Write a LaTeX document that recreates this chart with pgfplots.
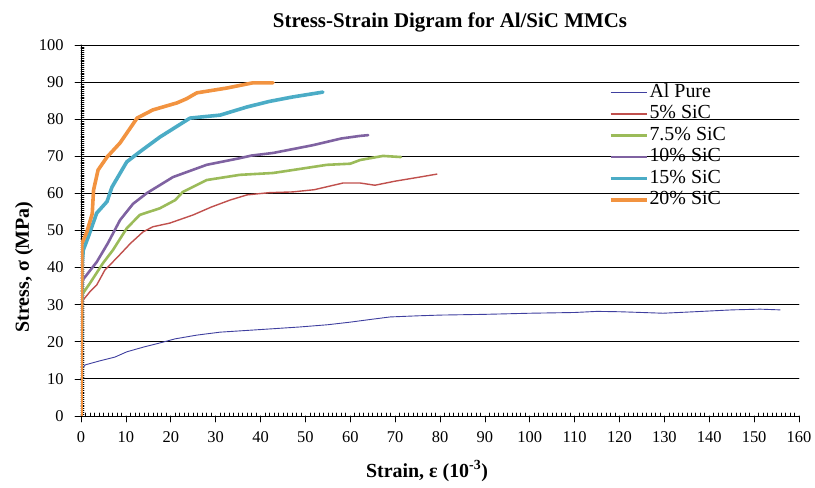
\documentclass[border=0pt]{standalone}
\usepackage{fontspec}
\setmainfont{Liberation Serif}
\usepackage{pgfplots}
\pgfplotsset{compat=1.18}

\definecolor{alpure}{HTML}{3F3F9F}
\definecolor{sic5}{HTML}{C0504D}
\definecolor{sic75}{HTML}{9BBB59}
\definecolor{sic10}{HTML}{7F62A1}
\definecolor{sic15}{HTML}{4BACC6}
\definecolor{sic20}{HTML}{F29340}

\begin{document}
\begin{tikzpicture}
\useasboundingbox (-81bp,-72bp) rectangle (734bp,416bp);
\begin{axis}[
  scale only axis,
  width=718bp, height=371bp,
  xmin=0, xmax=160, ymin=0, ymax=100,
  xtick={0,10,...,160}, ytick={0,10,...,100},
  minor x tick num=9, minor y tick num=19,
  axis x line=bottom, axis y line=left,
  axis line style={-, black, line width=0.8bp},
  ymajorgrids, grid style={black, line width=0.8bp},
  tick align=inside,
  major tick length=0pt, minor tick length=3bp,
  every tick/.style={black, line width=0.6bp},
  extra x ticks={0,10,...,160}, extra x tick labels={},
  extra y ticks={0,10,...,100}, extra y tick labels={},
  extra tick style={tick align=outside, major tick length=6bp, grid=none},
  tick label style={font=\fontsize{16.5}{18}\selectfont},
  /pgf/number format/assume math mode=true,
  xticklabel style={yshift=-12bp},
  yticklabel style={xshift=-14bp},
  legend style={draw=none, fill=none, at={(0.735,0.902)}, anchor=north west,
    font=\fontsize{20}{22}\selectfont, inner sep=0pt,
    nodes={inner sep=1bp, text height=14.5bp, text depth=5bp}},
  legend cell align=left,
  legend image code/.code={\draw[#1] (0bp,0bp) -- (36bp,0bp);},
  line join=round, line cap=round,
]
\addplot[alpure, line width=0.9bp] coordinates {
 (0,0) (0.3,13.0) (1,13.8) (4,14.8) (7.6,15.9) (10.2,17.3) (14,18.6) (17.6,19.7)
 (21,20.8) (25.8,21.8) (31,22.6) (40,23.3) (48.8,24.0) (55,24.6) (60,25.3) (65,26.1)
 (68.9,26.7) (75,27.0) (80,27.2) (90,27.4) (100,27.7) (110,27.9) (115,28.2) (120,28.1)
 (125,27.9) (129.7,27.7) (135,28.0) (140,28.3) (145,28.6) (151.3,28.8) (155.8,28.6)
};
\addplot[sic5, line width=1.4bp] coordinates {
 (0,0) (0.2,29.5) (0.5,31.3) (2,33.5) (3.5,35.3) (5.3,39.3) (8.2,42.9) (11,46.5)
 (13.8,49.6) (16,51) (19.8,52) (25,54.2) (29,56.3) (33.2,58.2) (37,59.6) (42,60.2)
 (47.2,60.4) (52,61) (58.4,62.8) (62.2,62.8) (65.5,62.2) (70,63.3) (75,64.3) (79.3,65.2)
};
\addplot[sic75, line width=2.6bp] coordinates {
 (0,0) (0.2,31) (0.4,33) (2,35.8) (4.9,41.2) (7.1,44.7) (10.2,50.6) (13.1,54.2)
 (17.6,56) (21,58.2) (22.7,60.4) (28,63.6) (35.4,65) (42.8,65.5) (47.2,66.3)
 (54.8,67.7) (60,68) (62.2,69) (67.3,70.1) (71.3,69.8)
};
\addplot[sic10, line width=2.6bp] coordinates {
 (0,0) (0.2,34) (0.4,36.7) (3.5,41.5) (6,46.6) (8.7,52.8) (11.6,57.2) (14.7,60.1)
 (20.5,64.4) (28,67.7) (35.4,69.5) (38,70.2) (42.8,70.9) (51.7,73) (58,74.8)
 (62.2,75.5) (64,75.7)
};
\addplot[sic15, line width=3.6bp] coordinates {
 (0,0) (0.2,40) (0.5,44.7) (1.6,48.2) (3.5,54.7) (5.8,57.8) (6.9,61.7) (10.2,68.5)
 (13.1,71.2) (17.6,75.2) (24.3,80.3) (31,81.1) (37,83.3) (42,84.8) (47.2,86) (53.9,87.3)
};
\addplot[sic20, line width=3.6bp] coordinates {
 (0,0) (0.2,46.5) (1.3,49.6) (2.5,54.5) (2.8,60.9) (3.8,66.3) (5.8,69.8) (8.7,73.6)
 (12.5,80.3) (16,82.5) (21.4,84.4) (23.5,85.5) (25.8,87.1) (32.5,88.4) (38.3,89.8) (42.8,89.8)
};
\legend{Al Pure, 5\% SiC, 7.5\% SiC, 10\% SiC, 15\% SiC, 20\% SiC}
\end{axis}
\node[font=\fontsize{21}{23}\selectfont\bfseries] at (369bp,394bp) {Stress-Strain Digram for Al/SiC MMCs};
\node[font=\fontsize{20}{22}\selectfont\bfseries] at (346bp,-55bp) {Strain, ε (10\textsuperscript{-3})};
\node[font=\fontsize{20}{22}\selectfont\bfseries, rotate=90] at (-57bp,149bp) {Stress, σ (MPa)};
\end{tikzpicture}
\end{document}
